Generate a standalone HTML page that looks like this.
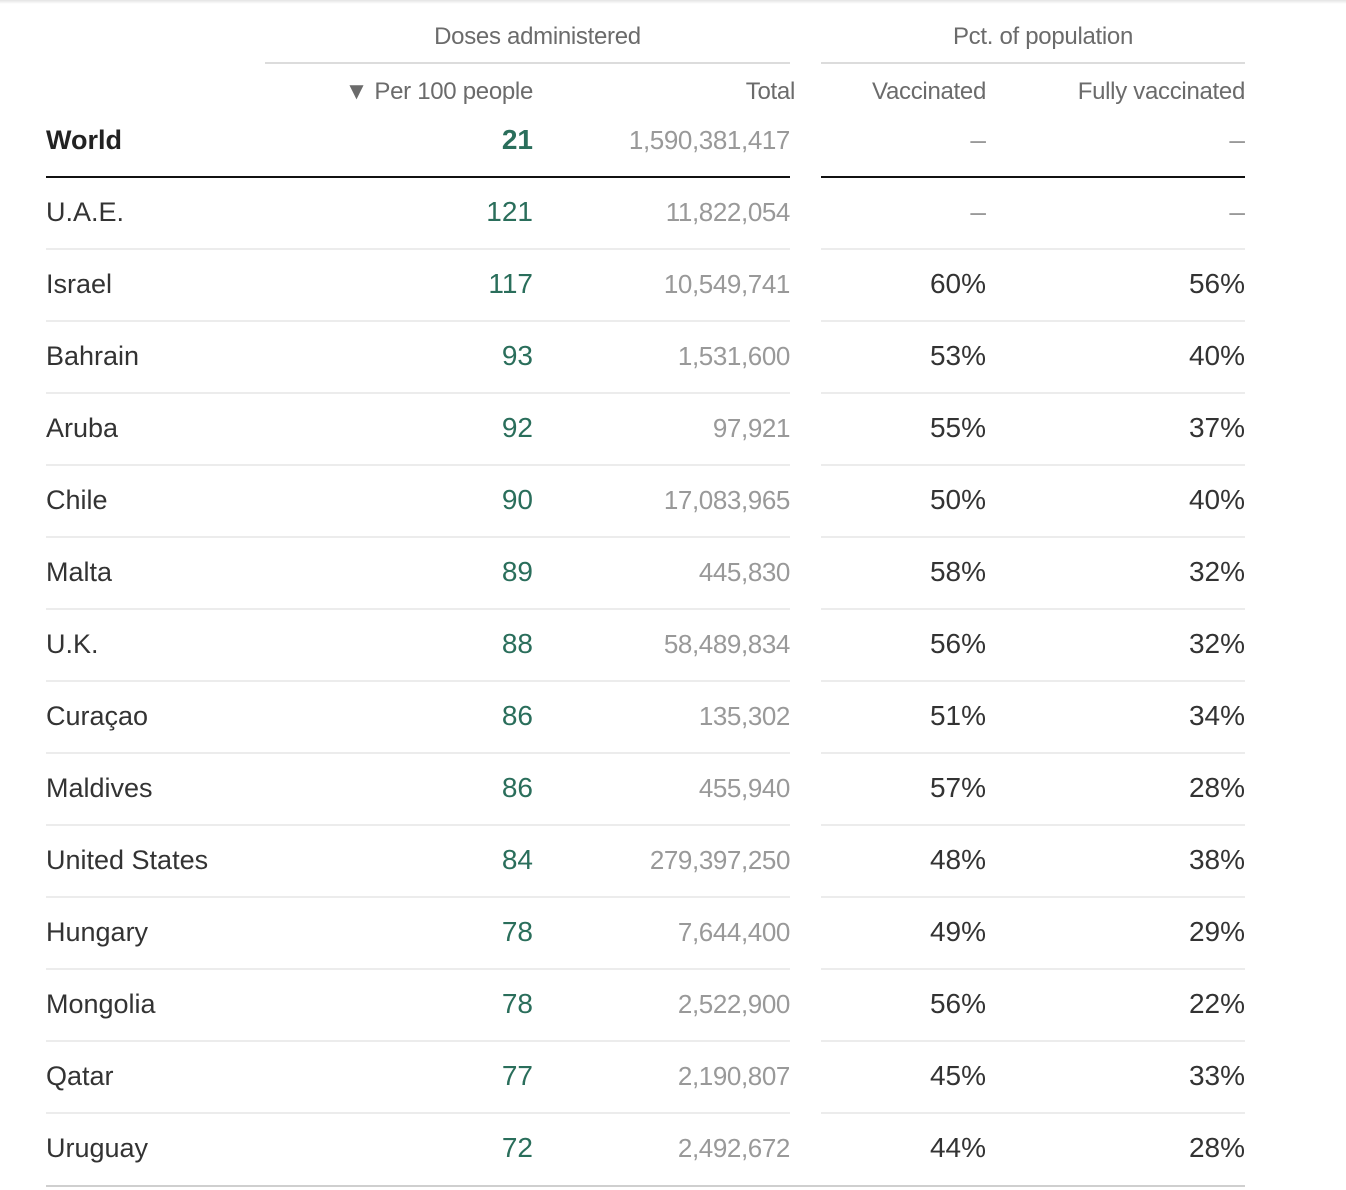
<!DOCTYPE html>
<html><head><meta charset="utf-8">
<style>
body{margin:0;width:1346px;height:1190px;background:#fff;position:relative;overflow:hidden;font-family:"Liberation Sans",sans-serif;}
.t{position:absolute;white-space:nowrap;line-height:30px;height:30px;}
.r{text-align:right;}
.ln{position:absolute;}
</style></head><body>
<div class="ln" style="left:0;top:0;width:1346px;height:4px;background:linear-gradient(#e4e4e4,#fff)"></div>
<div class="t" style="left:265px;width:545px;top:22px;text-align:center;font-size:24px;color:#6b6b6b;letter-spacing:-0.3px">Doses administered</div>
<div class="ln" style="left:265px;top:62px;width:525px;height:2px;background:#dcdcdc"></div>
<div class="t" style="left:821px;width:444px;top:22px;text-align:center;font-size:24px;color:#6b6b6b;letter-spacing:-0.3px">Pct. of population</div>
<div class="ln" style="left:821px;top:62px;width:424px;height:2px;background:#dcdcdc"></div>
<div class="t r" style="right:813px;top:77px;font-size:24px;color:#6b6b6b;letter-spacing:-0.3px">▼ Per 100 people</div>
<div class="t r" style="right:551px;top:77px;font-size:24px;color:#6b6b6b;letter-spacing:-0.3px">Total</div>
<div class="t r" style="right:360px;top:77px;font-size:24px;color:#6b6b6b;letter-spacing:-0.3px">Vaccinated</div>
<div class="t r" style="right:101px;top:77px;font-size:24px;color:#6b6b6b;letter-spacing:-0.3px">Fully vaccinated</div>
<div id="rows"></div>
<div class="ln" style="left:46px;top:176px;width:744px;height:2px;background:#111"></div>
<div class="ln" style="left:821px;top:176px;width:424px;height:2px;background:#111"></div>
<div class="ln" style="left:46px;top:1185px;width:1199px;height:2px;background:#cfcfcf"></div>
<script>
const countries=["World","U.A.E.","Israel","Bahrain","Aruba","Chile","Malta","U.K.","Curaçao","Maldives","United States","Hungary","Mongolia","Qatar","Uruguay"];
const per100=[21,121,117,93,92,90,89,88,86,86,84,78,78,77,72];
const totals=["1,590,381,417","11,822,054","10,549,741","1,531,600","97,921","17,083,965","445,830","58,489,834","135,302","455,940","279,397,250","7,644,400","2,522,900","2,190,807","2,492,672"];
const vaccinated=[null,null,60,53,55,50,58,56,51,57,48,49,56,45,44];
const fully=[null,null,56,40,37,40,32,32,34,28,38,29,22,33,28];
const root=document.getElementById('rows');
function cell(txt,style,name){const d=document.createElement('div');d.className='t';d.textContent=txt;d.style.cssText=style;


root.appendChild(d);}
function rowCenter(i){return i===0?140:212+(i-1)*72;}
countries.forEach((c,i)=>{
  const cy=rowCenter(i),top=cy-15,w=i===0;
  const fs='font-size:27px;';
  cell(c,`left:46px;top:${top}px;${fs}color:${w?'#222':'#333'};font-weight:${w?'bold':'normal'}`,'country-name');
  cell(String(per100[i]),`right:813px;top:${top}px;font-size:28px;color:#2a6e5b;text-align:right;font-weight:${w?'bold':'normal'}`,'per-100-value');
  cell(totals[i],`right:556px;top:${top}px;font-size:26px;letter-spacing:-0.4px;color:#999;text-align:right`,'total-doses');
  const v=vaccinated[i]==null?'–':vaccinated[i]+'%';
  const f=fully[i]==null?'–':fully[i]+'%';
  const dc=vaccinated[i]==null?'#999':'#333';
  cell(v,`right:360px;top:${top}px;font-size:28px;color:${dc};text-align:right`,'vaccinated-pct');
  cell(f,`right:101px;top:${top}px;font-size:28px;color:${dc};text-align:right`,'fully-vaccinated-pct');
  if(i>=1&&i<countries.length-1){
    const y=cy+36;
    [[46,744],[821,424]].forEach(([x,wd])=>{const l=document.createElement('div');l.className='ln';l.style.cssText=`left:${x}px;top:${y}px;width:${wd}px;height:2px;background:#ececec`;
    
    
    root.appendChild(l);});
  }
});
</script>
</body></html>
